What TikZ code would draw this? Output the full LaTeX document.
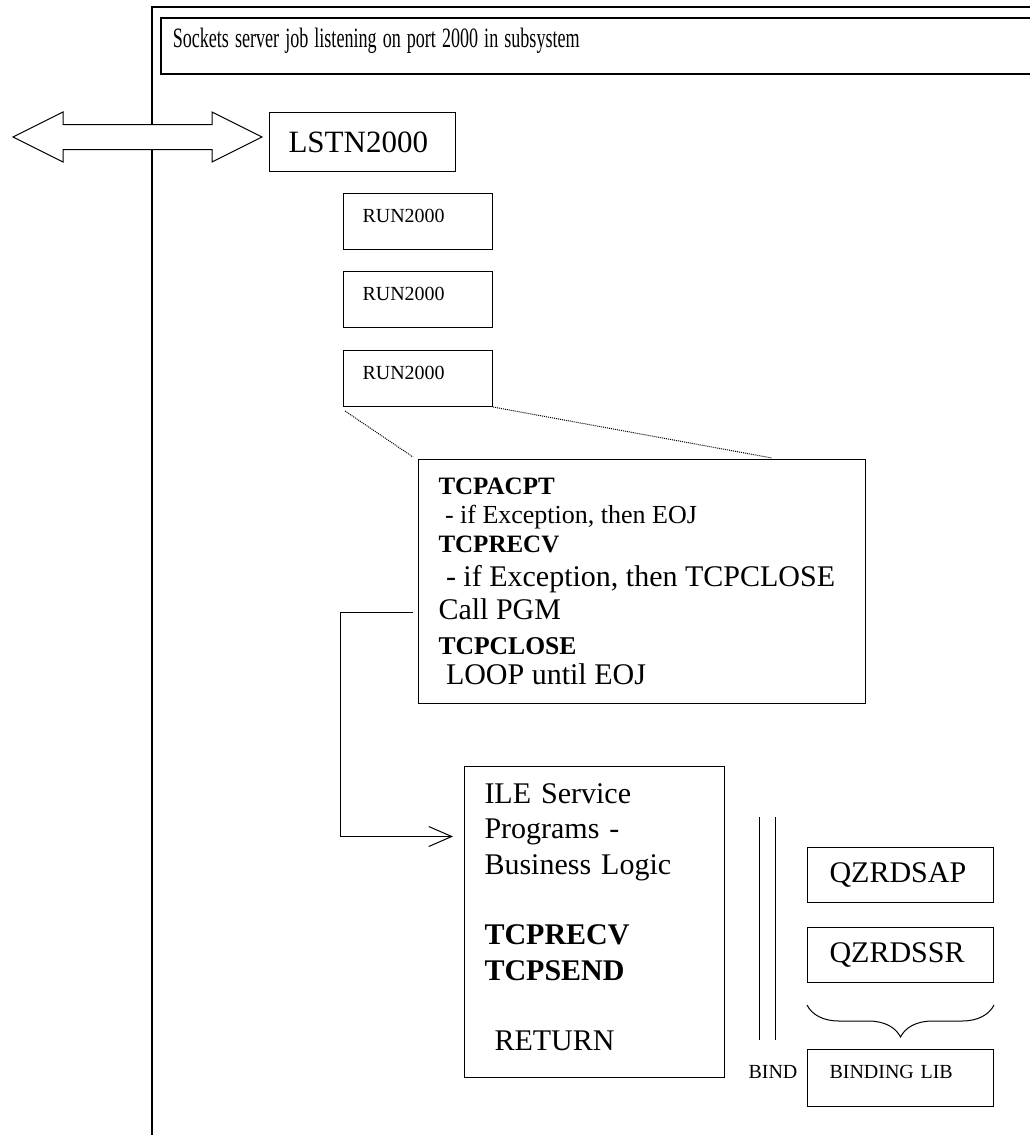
\documentclass[tikz,border=0pt]{standalone}
\usepackage{fontspec}
\setmainfont{Liberation Serif}
\usetikzlibrary{positioning,arrows.meta,decorations.pathreplacing}
\newcommand{\jobline}[3]{{\fontsize{#1}{#2}\selectfont\spaceskip=0pt\xspaceskip=0pt\noindent #3\par}}
\begin{document}
\begin{tikzpicture}[x=1pt,y=-1pt,line join=miter,line width=1pt,>={Straight Barb[length=23pt,width=20pt]}]
\tikzset{every node/.style={inner sep=0pt},
  box/.style={draw,anchor=north west,align=left},
  runbox/.style={box,minimum width=149pt,minimum height=56pt,text width=111pt,text height=14pt,text depth=12pt,font=\fontsize{20}{24}\selectfont},
  qbox/.style={box,minimum width=186pt,minimum height=55pt,text width=142pt,text height=20pt,text depth=5pt,font=\fontsize{30}{36}\selectfont}}
\useasboundingbox (0,0) rectangle (1030,1135);
\clip (0,0) rectangle (1030,1135);
\draw[line width=1.5pt] (152,1140)--(152,7)--(1040,7);
\node[box,line width=1.5pt,minimum width=880pt,minimum height=56pt,text width=856pt,text height=14pt,text depth=10pt,font=\fontsize{28}{32}\selectfont] (title) at (160,17) {\scalebox{0.646}[1]{Sockets server job listening on port 2000 in subsystem}};
\draw[fill=white] (13,137)--(63,112)--(63,124.5)--(212,124.5)--(212,112)--(262,137)--(212,162)--(212,149.5)--(63,149.5)--(63,162)--cycle;
\node[box,minimum width=186pt,minimum height=59pt,text width=148pt,font=\fontsize{31}{37}\selectfont] (lstn) at (269,112) {LSTN2000};
\node[runbox] (run1) at (343,193) {RUN2000};
\node[runbox,below=21pt of run1] (run2) {RUN2000};
\node[runbox,below=22pt of run2] (run3) {RUN2000};
\node[box,minimum width=447pt,minimum height=244pt,text width=407pt] (acpt) at (418,459) {%
  \jobline{25}{29}{\textbf{TCPACPT}}%
  \jobline{26}{29}{~- if Exception, then EOJ}%
  \jobline{25}{29}{\textbf{TCPRECV}}%
  \jobline{30}{34}{~- if Exception, then TCPCLOSE}%
  \jobline{30}{33}{Call PGM}%
  \jobline{25.6}{35}{\textbf{TCPCLOSE}}%
  \jobline{30}{30}{~LOOP until EOJ}};
\draw[densely dotted] ([shift={(2pt,-4pt)}]run3.south west) -- ([shift={(-5pt,2pt)}]acpt.north west);
\draw[densely dotted] (run3.south east) -- ([xshift=354pt,yshift=1pt]acpt.north west);
\node[box,minimum width=260pt,minimum height=311pt,text width=220pt,font=\fontsize{30}{35.5}\selectfont] (ile) at (464,766) {ILE Service\\Programs -\\Business Logic\\[35pt]\textbf{TCPRECV}\\\textbf{TCPSEND}\\[35pt]~RETURN\rule[-10pt]{0pt}{10pt}};
\draw[->] ([xshift=-5pt,yshift=-31pt]acpt.west) -- ++(-73,0) |- ([xshift=-11pt,yshift=85.5pt]ile.west);
\node[qbox] (qsap) at (807,847) {QZRDSAP};
\node[qbox,below=24pt of qsap] (qssr) {QZRDSSR};
\draw[decorate,decoration={brace,amplitude=32pt}] ([yshift=-22pt]qssr.south east) -- ([yshift=-22pt]qssr.south west);
\node[box,minimum width=186pt,minimum height=57pt,text width=142pt,text height=14pt,text depth=13pt,font=\fontsize{20}{24}\selectfont] (blib) at (807,1049) {BINDING LIB};
\node[anchor=base west,font=\fontsize{20}{24}\selectfont] (bind) at (748,1078) {BIND};
\draw (759,817)--(759,1040) (775,817)--(775,1040);
\end{tikzpicture}
\end{document}
